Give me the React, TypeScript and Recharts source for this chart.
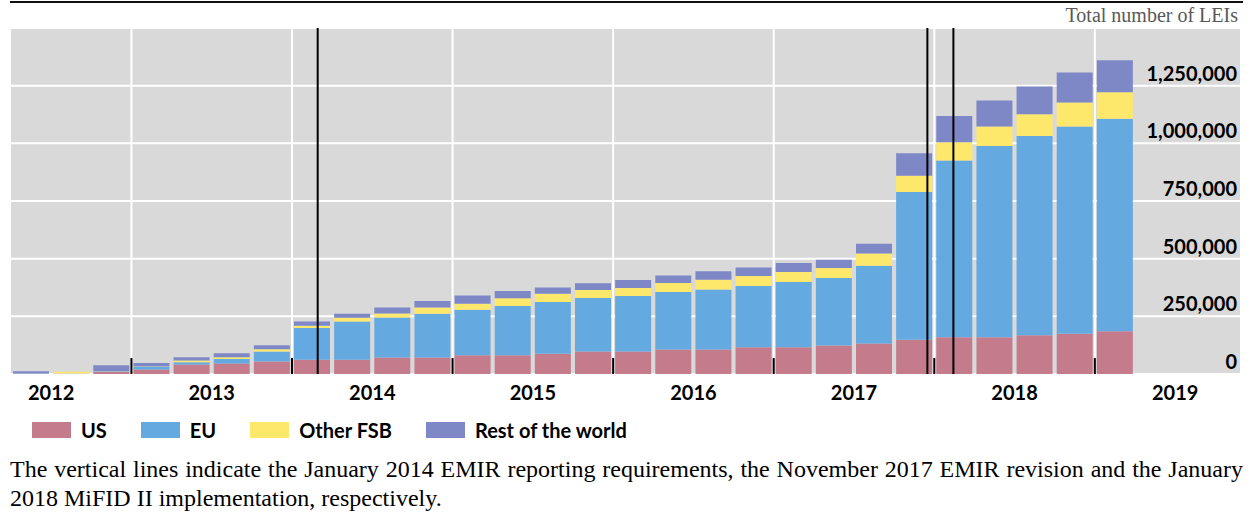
import React from 'react';
import { BarChart, Bar, XAxis, YAxis, CartesianGrid, ReferenceLine } from 'recharts';

// quarterly totals of LEIs by jurisdiction
const quarters = [
  '2012 Q2', '2012 Q3', '2012 Q4',
  '2013 Q1', '2013 Q2', '2013 Q3', '2013 Q4',
  '2014 Q1', '2014 Q2', '2014 Q3', '2014 Q4',
  '2015 Q1', '2015 Q2', '2015 Q3', '2015 Q4',
  '2016 Q1', '2016 Q2', '2016 Q3', '2016 Q4',
  '2017 Q1', '2017 Q2', '2017 Q3', '2017 Q4',
  '2018 Q1', '2018 Q2', '2018 Q3', '2018 Q4',
  '2019 Q1'
];
const us = [
  1000, 1000, 9000,
  19000, 41000, 46000, 54000,
  62000, 62000, 72000, 72000,
  81000, 81000, 88000, 98000,
  98000, 106000, 106000, 116000,
  116000, 124000, 132000, 149000,
  159000, 159000, 168000, 175000,
  185000
];
const eu = [
  1000, 1000, 2000,
  14000, 10000, 19000, 44000,
  137000, 166000, 173000, 189000,
  198000, 214000, 224000, 231000,
  240000, 250000, 260000, 266000,
  283000, 292000, 337000, 640000,
  767000, 829000, 864000, 898000,
  922000
];
const otherFsb = [
  0, 8000, 1000,
  1000, 7000, 8000, 9000,
  10000, 16000, 17000, 27000,
  26000, 33000, 36000, 35000,
  35000, 38000, 43000, 43000,
  43000, 43000, 53000, 71000,
  79000, 85000, 94000, 104000,
  114000
];
const restOfWorld = [
  10000, 0, 26000,
  14000, 15000, 17000, 18000,
  19000, 17000, 26000, 28000,
  35000, 32000, 27000, 29000,
  35000, 33000, 36000, 37000,
  39000, 36000, 43000, 97000,
  114000, 113000, 120000, 130000,
  139000
];

const years = [2012, 2013, 2014, 2015, 2016, 2017, 2018, 2019];
const yTicks = [0, 250000, 500000, 750000, 1000000, 1250000];
// EMIR reporting, EMIR revision, MiFID II (decimal years, as placed in the chart)
const eventLines = [2014.16, 2017.957, 2018.119];
// short black year marks at the bottom of the plot, in axis units (~16px)
const yearMarkHeight = 69000;

const series = [
  { key: 'us', name: 'US', color: '#c47b8c' },
  { key: 'eu', name: 'EU', color: '#64a9df' },
  { key: 'otherFsb', name: 'Other FSB', color: '#fde86b' },
  { key: 'restOfWorld', name: 'Rest of the world', color: '#7e88c7' }
];

const data = quarters.map((q, i) => {
  const [yr, qq] = q.split(' Q');
  return {
    q,
    t: Number(yr) + (Number(qq) - 1) / 4,
    us: us[i],
    eu: eu[i],
    otherFsb: otherFsb[i],
    restOfWorld: restOfWorld[i]
  };
});

const timeDomain: [number, number] = [2012.25, 2019.25];
const padRight = 105;

const boldFont = { fontFamily: 'Lato', fontWeight: 700, fontSize: 20 };
const serif = '"Liberation Serif", "Times New Roman", serif';

const YearTick = ({ x, y, payload }: any) => (
  <text x={x} y={y + 26} textAnchor="middle" fill="#000" style={boldFont}>
    {Math.floor(payload.value)}
  </text>
);

const ValueTick = ({ x, y, payload }: any) => (
  <text x={x} y={y - 5} textAnchor="end" fill="#000" style={boldFont}>
    {payload.value.toLocaleString('en-US')}
  </text>
);

export default function App() {
  const boundaries = years.slice(1);
  return (
    <div style={{ position: 'absolute', left: 0, top: 0, width: 1252, height: 519, background: '#fff' }}>
      <div style={{ position: 'absolute', left: 10, top: 1, width: 1233, height: 2, background: '#111' }} />
      <div
        style={{
          position: 'absolute',
          right: 14,
          top: 3,
          fontFamily: serif,
          fontSize: 20,
          lineHeight: '24px',
          color: '#595959'
        }}
      >
        Total number of LEIs
      </div>

      <div style={{ position: 'absolute', left: 0, top: 0 }}>
        <BarChart width={1252} height={414} data={data} margin={{ top: 28, right: 12, left: 11, bottom: 0 }}>
          <CartesianGrid vertical={false} fill="#d9d9d9" fillOpacity={1} stroke="#fff" strokeWidth={2} />
          <XAxis xAxisId="q" dataKey="q" type="category" hide height={0} padding={{ left: 0, right: padRight }} />
          <XAxis
            xAxisId="t"
            dataKey="t"
            type="number"
            domain={timeDomain}
            allowDataOverflow
            padding={{ left: 0, right: padRight }}
            ticks={years.map((y) => y + 0.5)}
            tick={<YearTick />}
            tickLine={false}
            axisLine={false}
            tickSize={0}
            tickMargin={0}
            height={40}
            interval={0}
          />
          <YAxis
            orientation="right"
            mirror
            domain={[0, 1500000]}
            ticks={yTicks}
            tick={<ValueTick />}
            tickLine={false}
            axisLine={false}
            tickSize={0}
            tickMargin={3}
            interval={0}
          />
          {boundaries.map((yr) => (
            <ReferenceLine key={`g${yr}`} xAxisId="t" x={yr} stroke="#fff" strokeWidth={2} />
          ))}
          {series.map((s) => (
            <Bar
              key={s.key}
              xAxisId="q"
              dataKey={s.key}
              name={s.name}
              stackId="a"
              fill={s.color}
              barSize={36}
              isAnimationActive={false}
            />
          ))}
          {boundaries.map((yr) => (
            <ReferenceLine
              key={`m${yr}`}
              xAxisId="t"
              segment={[{ x: yr, y: 0 }, { x: yr, y: yearMarkHeight }]}
              stroke="#000"
              strokeWidth={2}
            />
          ))}
          {eventLines.map((x) => (
            <ReferenceLine key={x} xAxisId="t" x={x} stroke="#000" strokeWidth={2} />
          ))}
        </BarChart>
      </div>

      <div style={{ position: 'absolute', left: 32, top: 418, display: 'flex', gap: 34, alignItems: 'center' }}>
        {series.map((s) => (
          <div key={s.key} style={{ display: 'flex', alignItems: 'center' }}>
            <div style={{ width: 39, height: 16, background: s.color }} />
            <span style={{ ...boldFont, marginLeft: 10, lineHeight: '24px', color: '#000' }}>{s.name}</span>
          </div>
        ))}
      </div>

      <div style={{ position: 'absolute', left: 10, top: 455, width: 1233, fontFamily: serif, fontSize: 24, lineHeight: '29px', color: '#000' }}>
        <div style={{ textAlign: 'justify', textAlignLast: 'justify' }}>
          The vertical lines indicate the January 2014 EMIR reporting requirements, the November 2017 EMIR revision and the January
        </div>
        <div>2018 MiFID II implementation, respectively.</div>
      </div>
    </div>
  );
}
